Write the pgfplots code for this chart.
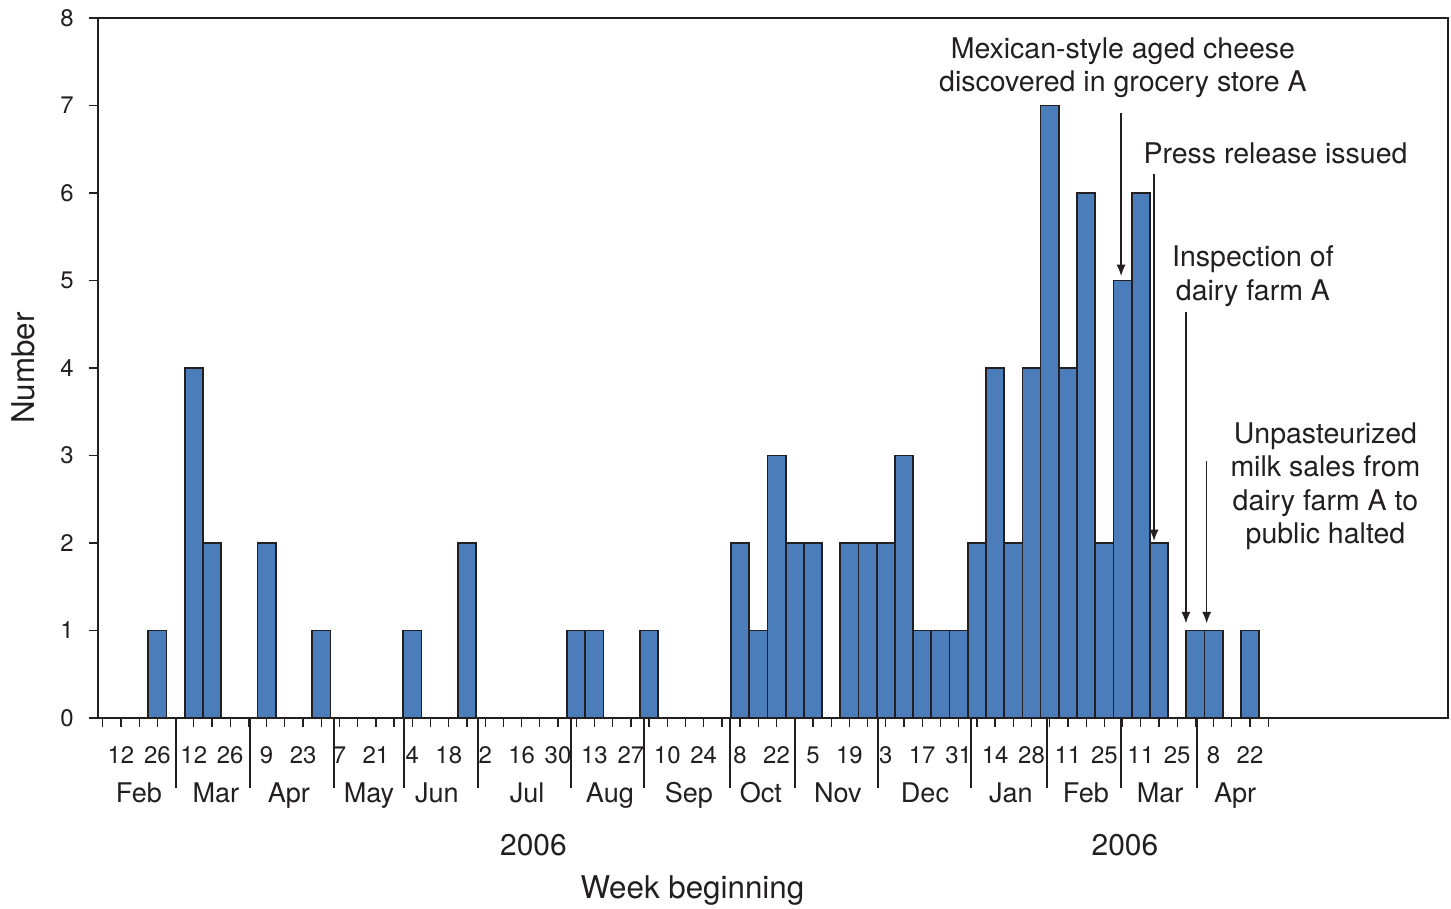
\documentclass[border=0pt]{standalone}
\usepackage{fontspec}
\setmainfont{TeX Gyre Heros}
\usepackage{pgfplots}
\usepackage{pgfplotstable}
\pgfplotsset{compat=1.18}
\usetikzlibrary{arrows.meta}

\definecolor{barblue}{HTML}{4B7DBB}
\definecolor{ink}{HTML}{231F20}

\newcommand\tickfont{\fontsize{8.4}{10}\selectfont}
\newcommand\monthfont{\fontsize{9.5}{11}\selectfont}
\newcommand\yearfont{\fontsize{10.5}{12}\selectfont}
\newcommand\labfont{\fontsize{11}{13}\selectfont}
\newcommand\annofont{\fontsize{10}{12}\selectfont}

% week 0 = week beginning 5 Feb 2006
\pgfplotstableread{
week count
3  1
5  4
6  2
9  2
12 1
17 1
20 2
26 1
27 1
30 1
35 2
36 1
37 3
38 2
39 2
41 2
42 2
43 2
44 3
45 1
46 1
47 1
48 2
49 4
50 2
51 4
52 7
53 4
54 6
55 2
56 5
57 6
58 2
60 1
61 1
63 1
}\weekly

\begin{document}
\begin{tikzpicture}[text=ink]
\begin{axis}[
    scale only axis,
    width=473.68pt, height=245.61pt,
    xmin=-0.26, xmax=73.87,
    ymin=0, ymax=8,
    clip=false,
    axis line style={line width=0.7pt, draw=ink},
    tick align=outside,
    xtick pos=bottom, ytick pos=left,
    major tick length=3.2pt, minor tick length=3pt,
    tick style={line width=0.45pt, draw=ink},
    xtick={1,3,...,63},
    minor xtick={0,2,...,64},
    xticklabels={12,26,12,26,9,23,7,21,4,18,2,16,30,13,27,10,24,8,22,5,19,3,17,31,14,28,11,25,11,25,8,22},
    ytick={0,...,8},
    tick label style={/pgf/number format/assume math mode=true, font=\tickfont},
    xticklabel style={anchor=base, yshift=-12.6pt},
    yticklabel style={xshift=-1.8pt},
    extra x ticks={4.02,8.08,12.71,16.54,20.59,25.73,29.72,34.44,38.01,42.55,47.67,51.83,55.91,60.07},
    extra x tick labels={},
    extra x tick style={major tick length=24.56pt, tick style={line width=0.7pt, draw=ink}},
    ybar, bar width=1, bar shift=0pt,
]
\addplot[fill=barblue, draw=ink, line width=0.6pt] table[x=week, y=count] {\weekly};

% month and year labels
\node[anchor=base, font=\monthfont, yshift=-29.5pt] at (axis cs:1.99,0) {Feb};
\node[anchor=base, font=\monthfont, yshift=-29.5pt] at (axis cs:6.21,0) {Mar};
\node[anchor=base, font=\monthfont, yshift=-29.5pt] at (axis cs:10.22,0) {Apr};
\node[anchor=base, font=\monthfont, yshift=-29.5pt] at (axis cs:14.62,0) {May};
\node[anchor=base, font=\monthfont, yshift=-29.5pt] at (axis cs:18.35,0) {Jun};
\node[anchor=base, font=\monthfont, yshift=-29.5pt] at (axis cs:23.3,0) {Jul};
\node[anchor=base, font=\monthfont, yshift=-29.5pt] at (axis cs:27.85,0) {Aug};
\node[anchor=base, font=\monthfont, yshift=-29.5pt] at (axis cs:32.19,0) {Sep};
\node[anchor=base, font=\monthfont, yshift=-29.5pt] at (axis cs:36.14,0) {Oct};
\node[anchor=base, font=\monthfont, yshift=-29.5pt] at (axis cs:40.37,0) {Nov};
\node[anchor=base, font=\monthfont, yshift=-29.5pt] at (axis cs:45.15,0) {Dec};
\node[anchor=base, font=\monthfont, yshift=-29.5pt] at (axis cs:49.87,0) {Jan};
\node[anchor=base, font=\monthfont, yshift=-29.5pt] at (axis cs:53.99,0) {Feb};
\node[anchor=base, font=\monthfont, yshift=-29.5pt] at (axis cs:58.06,0) {Mar};
\node[anchor=base, font=\monthfont, yshift=-29.5pt] at (axis cs:62.18,0) {Apr};
\node[anchor=base, font=\yearfont, yshift=-48.4pt] at (axis cs:23.65,0) {2006};
\node[anchor=base, font=\yearfont, yshift=-48.4pt] at (axis cs:56.13,0) {2006};
\node[anchor=base, font=\labfont, yshift=-63.2pt] at (axis cs:32.38,0) {Week beginning};
\path (rel axis cs:0,0.5) ++(-27.8pt,0) node[rotate=90, font=\labfont] {Number};

% annotations
\node[anchor=base, font=\annofont] at (axis cs:56.02,7.539) {Mexican-style aged cheese};
\node[anchor=base, font=\annofont] at (axis cs:56.02,7.158) {discovered in grocery store A};
\draw[-{Latex[length=4pt,width=3.2pt]}, line width=0.5pt, draw=ink, fill=ink]
    (axis cs:55.92,6.914) -- (axis cs:55.92,5.051);
\node[anchor=base, font=\annofont] at (axis cs:64.40,6.339) {Press release issued};
\draw[-{Latex[length=4pt,width=3.2pt]}, line width=0.5pt, draw=ink, fill=ink]
    (axis cs:57.73,6.217) -- (axis cs:57.73,2.023);
\node[anchor=base, font=\annofont] at (axis cs:63.16,5.158) {Inspection of};
\node[anchor=base, font=\annofont] at (axis cs:63.16,4.777) {dairy farm A};
\draw[-{Latex[length=4pt,width=3.2pt]}, line width=0.5pt, draw=ink, fill=ink]
    (axis cs:59.48,4.643) -- (axis cs:59.48,1.082);
\node[anchor=base, font=\annofont] at (axis cs:67.14,3.139) {Unpasteurized};
\node[anchor=base, font=\annofont] at (axis cs:67.14,2.759) {milk sales from};
\node[anchor=base, font=\annofont] at (axis cs:67.14,2.377) {dairy farm A to};
\node[anchor=base, font=\annofont] at (axis cs:67.14,2.0) {public halted};
\draw[-{Latex[length=4pt,width=3.2pt]}, line width=0.5pt, draw=ink, fill=ink]
    (axis cs:60.62,2.937) -- (axis cs:60.62,1.082);
\end{axis}
\pgfresetboundingbox
\useasboundingbox (-34.39pt,-67.02pt) rectangle (474.74pt,251.93pt);
\end{tikzpicture}
\end{document}
